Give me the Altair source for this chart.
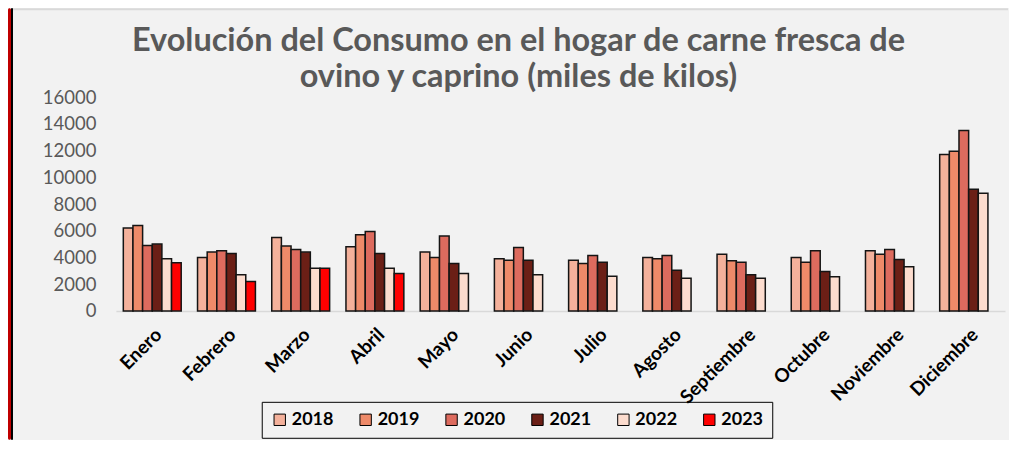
import altair as alt
import pandas as pd

months = ["Enero", "Febrero", "Marzo", "Abril", "Mayo", "Junio", "Julio",
          "Agosto", "Septiembre", "Octubre", "Noviembre", "Diciembre"]
years = ["2018", "2019", "2020", "2021", "2022", "2023"]
v2018 = [6200, 4000, 5500, 4800, 4400, 3900, 3800, 4000, 4250, 4000, 4500, 11700]
v2019 = [6400, 4400, 4850, 5700, 4000, 3800, 3550, 3900, 3750, 3650, 4250, 11950]
v2020 = [4900, 4500, 4600, 5950, 5600, 4750, 4150, 4150, 3650, 4500, 4600, 13500]
v2021 = [5000, 4300, 4400, 4300, 3550, 3800, 3650, 3050, 2700, 2950, 3850, 9100]
v2022 = [3900, 2700, 3200, 3200, 2800, 2700, 2600, 2450, 2450, 2550, 3300, 8800]
v2023 = [3600, 2200, 3200, 2800]
colors = ["#F4B19B", "#EE8A69", "#DD6B5E", "#6B1F16", "#FCDCCE", "#FF0000"]
y_ticks = [0, 2000, 4000, 6000, 8000, 10000, 12000, 14000, 16000]
title_line1 = "Evolución del Consumo en el hogar de carne fresca de"
title_line2 = "ovino y caprino (miles de kilos)"

rows = []
for yr, vals in zip(years, [v2018, v2019, v2020, v2021, v2022, v2023]):
    for m, v in zip(months, vals):
        rows.append({"mes": m, "anio": yr, "valor": v})
df = pd.DataFrame(rows)

W, H = 890, 214
FONT = "Lato"

bars = alt.Chart(df).mark_bar(stroke="#141414", strokeWidth=1.5).encode(
    x=alt.X("mes:N", sort=months,
            scale=alt.Scale(paddingInner=0.22, paddingOuter=0.1),
            axis=alt.Axis(title=None, labelAngle=-45, labelFontSize=19,
                          labelFontWeight="bold", labelColor="#000000",
                          labelFont=FONT, ticks=False, domainColor="#D9D9D9",
                          domainWidth=1.5, labelPadding=14)),
    xOffset=alt.XOffset("anio:N", sort=years,
                        scale=alt.Scale(domain=years, paddingInner=0, paddingOuter=0)),
    y=alt.Y("valor:Q",
            scale=alt.Scale(domain=[0, 16000], nice=False),
            axis=alt.Axis(title=None, values=y_ticks, format="d", grid=False,
                          domain=False, ticks=False, labelFontSize=18.5,
                          labelColor="#595959", labelFont=FONT, labelPadding=20)),
    color=alt.Color("anio:N", sort=years,
                    scale=alt.Scale(domain=years, range=colors),
                    legend=alt.Legend(title=None, orient="none", direction="horizontal",
                                      legendX=146, legendY=305,
                                      strokeColor="#000000", padding=9,
                                      symbolType="square", symbolSize=130,
                                      symbolStrokeColor="#000000", symbolStrokeWidth=1,
                                      labelFontSize=18, labelFontWeight="bold",
                                      labelColor="#000000", labelFont=FONT,
                                      columnPadding=23, labelOffset=3)),
)

deco = pd.DataFrame({"k": [0]})
stripe = alt.Chart(deco).mark_rect(color="#C00000", cornerRadius=2).encode(
    x=alt.value(-108), x2=alt.value(-105), y=alt.value(-89), y2=alt.value(343))
stripe_edge = alt.Chart(deco).mark_rect(color="#000000").encode(
    x=alt.value(-105), x2=alt.value(-103), y=alt.value(-89), y2=alt.value(343))
topline = alt.Chart(deco).mark_rule(color="#D9D9D9", strokeWidth=2).encode(
    x=alt.value(-103), x2=alt.value(W + 3), y=alt.value(-88))

title_style = dict(font=FONT, fontSize=32.5, fontWeight="bold", color="#595959",
                   align="center", baseline="alphabetic")
t1 = alt.Chart(deco).mark_text(text=title_line1, **title_style).encode(
    x=alt.value(W / 2 - 42), y=alt.value(-46))
t2 = alt.Chart(deco).mark_text(text=title_line2, **title_style).encode(
    x=alt.value(W / 2 - 42), y=alt.value(-10))

chart = alt.layer(stripe, stripe_edge, topline, t1, t2, bars).properties(
    width=W, height=H,
    padding={"left": 0, "top": 0, "right": 0, "bottom": 0},
    background="#F2F2F2",
).configure_view(stroke=None)

chart.save("out.html", embed_options={"renderer": "svg", "actions": False})
